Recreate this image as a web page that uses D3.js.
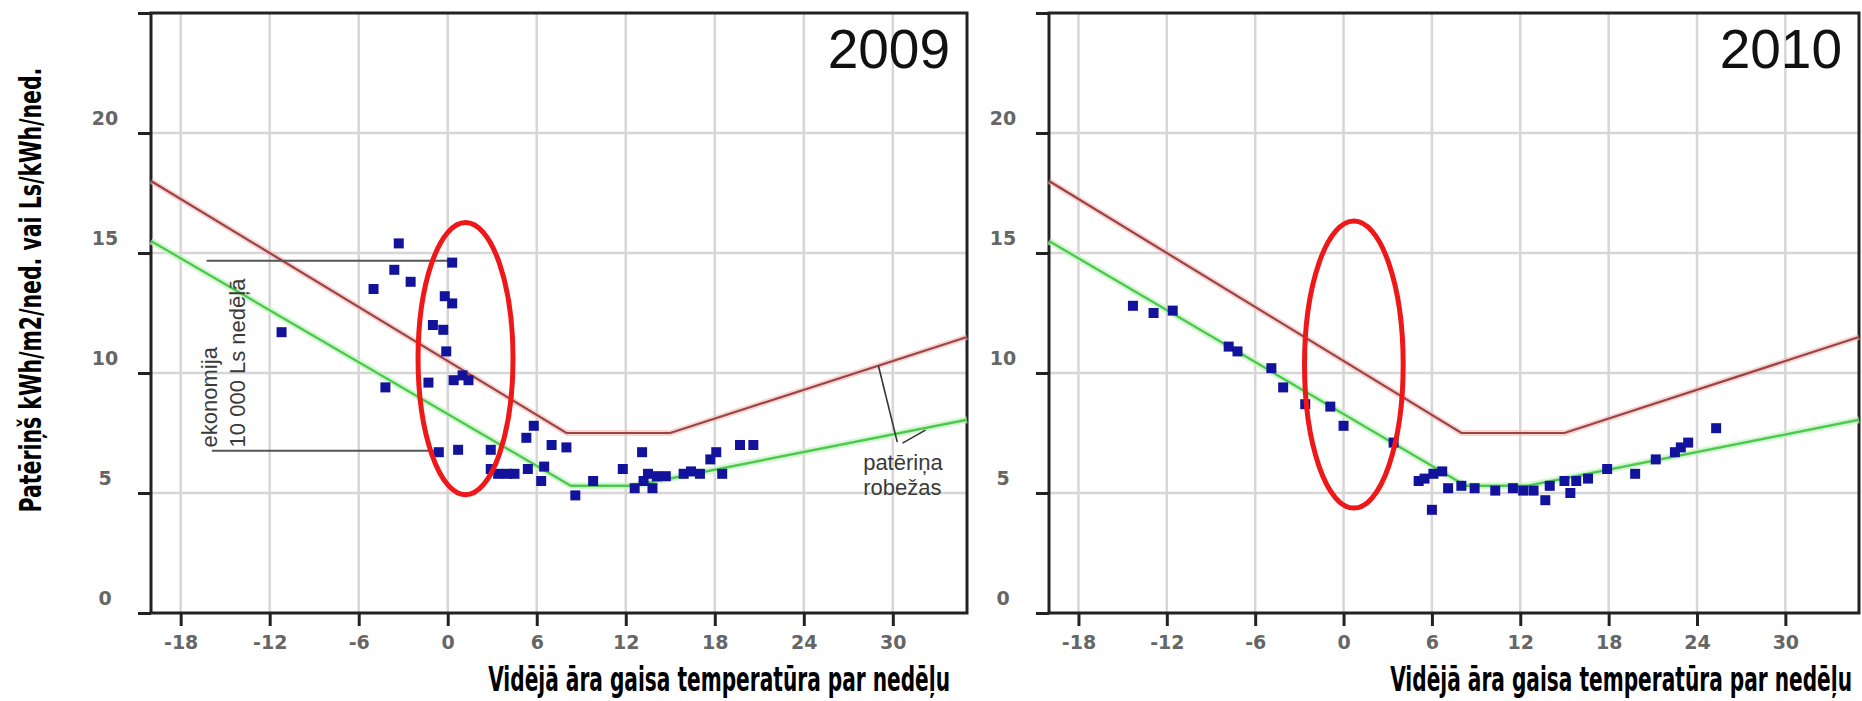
<!DOCTYPE html>
<html>
<head>
<meta charset="utf-8">
<script src="https://cdn.jsdelivr.net/npm/d3@7"></script>
<style>
    html, body { margin: 0; padding: 0; background: #fff; }
    svg { display: block; }
</style>
</head>
<body>
<svg id="canvas"></svg>
<script>
const X_TICKS = [-18, -12, -6, 0, 6, 12, 18, 24, 30];
const X_TICK_LABELS = ["-18", "-12", "-6", "0", "6", "12", "18", "24", "30"];
const Y_TICKS = [0, 5, 10, 15, 20, 25];
const Y_TICK_LABELS = ["0", "5", "10", "15", "20", ""];
const GRID_Y = [5, 10, 15, 20];

// consumption limits (upper = red, lower = green)
const UPPER_X = [-20, 8, 15, 35];
const UPPER_Y = [18, 7.5, 7.5, 11.5];
const LOWER_X = [-20, 8.3, 12.5, 35];
const LOWER_Y = [15.5, 5.3, 5.3, 8.05];

const YEARS = ["2009", "2010"];

const TEMP_2009 = [-3.3, 0.3, -3.6, -2.5, -5.0, -0.2, 0.3, -1.0, -0.3, -11.2, -0.1, 0.4, 1.0, 1.4,
    -1.3, -4.2, -0.6, 0.7, 2.9, 5.8, 5.3, 7.0, 8.0, 2.9, 3.4, 4.0, 4.5, 5.4, 6.5, 6.3, 8.6, 9.8,
    11.8, 13.1, 12.6, 13.2, 13.8, 14.1, 14.7, 15.9, 16.4, 17.0, 17.7, 18.1, 18.5, 19.7, 20.6, 13.5];
const CONS_2009 = [15.4, 14.6, 14.3, 13.8, 13.5, 13.2, 12.9, 12.0, 11.8, 11.7, 10.9, 9.7, 9.9, 9.7,
    9.6, 9.4, 6.7, 6.8, 6.8, 7.8, 7.3, 7.0, 6.9, 6.0, 5.8, 5.8, 5.8, 6.0, 6.1, 5.5, 4.9, 5.5,
    6.0, 6.7, 5.2, 5.5, 5.2, 5.7, 5.7, 5.8, 5.9, 5.8, 6.4, 6.7, 5.8, 7.0, 7.0, 5.8];

const TEMP_2010 = [-14.3, -12.9, -11.6, -7.8, -7.2, -4.9, -4.1, -2.6, -0.9, 0.0, 3.4, 5.1, 5.5, 6.1,
    6.7, 6.0, 7.1, 8.0, 8.9, 10.3, 11.5, 12.2, 12.9, 13.7, 14.0, 15.0, 15.4, 15.8, 16.6, 17.9,
    19.8, 21.2, 22.5, 22.9, 23.4, 25.3];
const CONS_2010 = [12.8, 12.5, 12.6, 11.1, 10.9, 10.2, 9.4, 8.7, 8.6, 7.8, 7.1, 5.5, 5.6, 5.8,
    5.9, 4.3, 5.2, 5.3, 5.2, 5.1, 5.2, 5.1, 5.1, 4.7, 5.3, 5.5, 5.0, 5.5, 5.6, 6.0,
    5.8, 6.4, 6.7, 6.9, 7.1, 7.7];

// red ellipse marking the 0 °C weeks: [cx, cy, rx, ry] in data units
const ELLIPSE_2009 = [1.2, 10.6, 3.2, 5.67];
const ELLIPSE_2010 = [0.7, 10.35, 3.35, 5.98];

// savings bracket (2009): [x1, x2, y]
const BRACKET_TOP = [-16.25, 0.2, 14.68];
const BRACKET_BOTTOM = [-15.9, -0.7, 6.76];
const BRACKET_TEXT = ["ekonomija", "10 000 Ls nedēļā"];

// pointer from label to both limit lines: [x1, y1, x2, y2]
const POINTERS = [[29.03, 10.3, 30.3, 7.12], [30.65, 7.08, 32.2, 7.62]];
const POINTER_TEXT = ["patēriņa", "robežas"];

const Y_TITLE = "Patēriņš kWh/m2/ned. vai Ls/kWh/ned.";
const X_TITLE = "Vidējā āra gaisa temperatūra par nedēļu";

const width = 1862;
const height = 701;
const plotTop = 13;
const plotBottom = 613;

const panels = [
    { year: YEARS[0], range: [151, 967], temps: TEMP_2009, cons: CONS_2009, ellipse: ELLIPSE_2009, notes: true, titleEnd: 950 },
    { year: YEARS[1], range: [1049, 1859], temps: TEMP_2010, cons: CONS_2010, ellipse: ELLIPSE_2010, notes: false, titleEnd: 1852 }
];

const canvas = d3.select("#canvas")
    .attr("width", width)
    .attr("height", height);

const yScale = d3.scaleLinear()
    .domain([0, 25])
    .range([plotBottom, plotTop]);

const narrow = "'Liberation Sans Narrow', 'DejaVu Sans Condensed', sans-serif";
const tickFont = "bold 19px 'DejaVu Sans', sans-serif";

//Squeezes a bold title horizontally so it fills the given length
function squeezedTitle(parent, text, x, y, angle, length, size, anchor) {
    const t = parent.append("text")
        .attr("text-anchor", anchor)
        .attr("fill", "#000")
        .style("font-family", narrow)
        .style("font-weight", "bold")
        .style("font-size", size + "px")
        .text(text);
    const natural = t.node().getComputedTextLength();
    const sx = length / natural;
    t.attr("transform", `translate(${x}, ${y}) rotate(${angle}) scale(${sx}, 1)`);
    return t;
}

panels.forEach(p => {
    const xScale = d3.scaleLinear()
        .domain([-20, 35])
        .range(p.range);
    const g = canvas.append("g");
    const x0 = p.range[0], x1 = p.range[1];

    //Grid
    g.selectAll(".vgrid")
        .data(X_TICKS)
        .enter()
        .append("line")
        .attr("x1", d => xScale(d)).attr("x2", d => xScale(d))
        .attr("y1", plotTop).attr("y2", plotBottom)
        .attr("stroke", "#d6d6d6").attr("stroke-width", 2.5);
    g.selectAll(".hgrid")
        .data(GRID_Y)
        .enter()
        .append("line")
        .attr("x1", x0).attr("x2", x1)
        .attr("y1", d => yScale(d)).attr("y2", d => yScale(d))
        .attr("stroke", "#d6d6d6").attr("stroke-width", 2.5);

    //Axes
    const xAxis = d3.axisBottom(xScale)
        .tickValues(X_TICKS)
        .tickSize(13)
        .tickSizeOuter(0)
        .tickFormat((d, i) => X_TICK_LABELS[i]);
    const yAxis = d3.axisLeft(yScale)
        .tickValues(Y_TICKS)
        .tickSize(13)
        .tickSizeOuter(0)
        .tickFormat((d, i) => Y_TICK_LABELS[i]);

    const gx = g.append("g")
        .attr("transform", `translate(0, ${plotBottom})`)
        .call(xAxis);
    gx.select(".domain").remove();
    gx.selectAll("line").attr("stroke", "#222").attr("stroke-width", 3);
    gx.selectAll("text")
        .attr("y", 36).attr("dy", 0).attr("dx", 0)
        .attr("fill", "#666")
        .style("font", tickFont);

    const gy = g.append("g")
        .attr("transform", `translate(${x0}, 0)`)
        .call(yAxis);
    gy.select(".domain").remove();
    gy.selectAll("line").attr("stroke", "#222").attr("stroke-width", 3);
    gy.selectAll("text")
        .attr("x", -46).attr("dy", -9)
        .attr("text-anchor", "middle")
        .attr("fill", "#666")
        .style("font", tickFont);

    //Frame
    g.append("rect")
        .attr("x", x0).attr("y", plotTop)
        .attr("width", x1 - x0).attr("height", plotBottom - plotTop)
        .attr("fill", "none")
        .attr("stroke", "#222").attr("stroke-width", 3);

    //Limit lines
    const line = d3.line()
        .x(d => xScale(d[0]))
        .y(d => yScale(d[1]));
    const upper = UPPER_X.map((x, i) => [x, UPPER_Y[i]]);
    const lower = LOWER_X.map((x, i) => [x, LOWER_Y[i]]);

    g.append("path").datum(upper).attr("d", line)
        .attr("fill", "none").attr("stroke", "#f2b8b8").attr("stroke-width", 6).attr("opacity", 0.6);
    g.append("path").datum(upper).attr("d", line)
        .attr("fill", "none").attr("stroke", "#9a4444").attr("stroke-width", 2.2);
    g.append("path").datum(lower).attr("d", line)
        .attr("fill", "none").attr("stroke", "#c4f2c4").attr("stroke-width", 7).attr("opacity", 0.7);
    g.append("path").datum(lower).attr("d", line)
        .attr("fill", "none").attr("stroke", "#4ec94e").attr("stroke-width", 2.4);

    //Savings bracket and pointer notes
    if (p.notes) {
        [BRACKET_TOP, BRACKET_BOTTOM].forEach(b => {
            g.append("line")
                .attr("x1", xScale(b[0])).attr("x2", xScale(b[1]))
                .attr("y1", yScale(b[2])).attr("y2", yScale(b[2]))
                .attr("stroke", "#555").attr("stroke-width", 2);
        });
        const bx = xScale(-15.55);
        const by = yScale(6.9);
        const bt = g.append("text")
            .attr("transform", `translate(${bx}, ${by}) rotate(-90)`)
            .attr("fill", "#3a3a3a")
            .style("font", "22px 'Liberation Sans', Arial, sans-serif");
        BRACKET_TEXT.forEach((t, i) => {
            bt.append("tspan").attr("x", 0).attr("y", i * 28).text(t);
        });

        g.selectAll(".pointer")
            .data(POINTERS)
            .enter()
            .append("line")
            .attr("x1", d => xScale(d[0])).attr("y1", d => yScale(d[1]))
            .attr("x2", d => xScale(d[2])).attr("y2", d => yScale(d[3]))
            .attr("stroke", "#333").attr("stroke-width", 1.6);
        POINTER_TEXT.forEach((t, i) => {
            g.append("text")
                .attr("x", xScale(28.0))
                .attr("y", yScale(5.96) + i * 25)
                .attr("fill", "#3a3a3a")
                .style("font", "22px 'Liberation Sans', Arial, sans-serif")
                .text(t);
        });
    }

    //Data points
    g.selectAll(".pt")
        .data(p.temps)
        .enter()
        .append("rect")
        .attr("x", (d, i) => xScale(d) - 5)
        .attr("y", (d, i) => yScale(p.cons[i]) - 5)
        .attr("width", 10)
        .attr("height", 10)
        .attr("fill", "#12129c");

    //Red ellipse
    const e = p.ellipse;
    g.append("ellipse")
        .attr("cx", xScale(e[0]))
        .attr("cy", yScale(e[1]))
        .attr("rx", xScale(e[0] + e[2]) - xScale(e[0]))
        .attr("ry", yScale(e[1] - e[3]) - yScale(e[1]))
        .attr("fill", "none")
        .attr("stroke", "#ee1818")
        .attr("stroke-width", 5);

    //Year label
    g.append("text")
        .attr("x", x1 - 17)
        .attr("y", 68)
        .attr("text-anchor", "end")
        .attr("fill", "#111")
        .style("font", "55px 'Liberation Sans', Arial, sans-serif")
        .text(p.year);

    //X title
    squeezedTitle(g, X_TITLE, p.titleEnd, 691, 0, 462, 33, "end");
});

//Y title
squeezedTitle(canvas, Y_TITLE, 41, 290, -90, 445, 31, "middle");
</script>
</body>
</html>
